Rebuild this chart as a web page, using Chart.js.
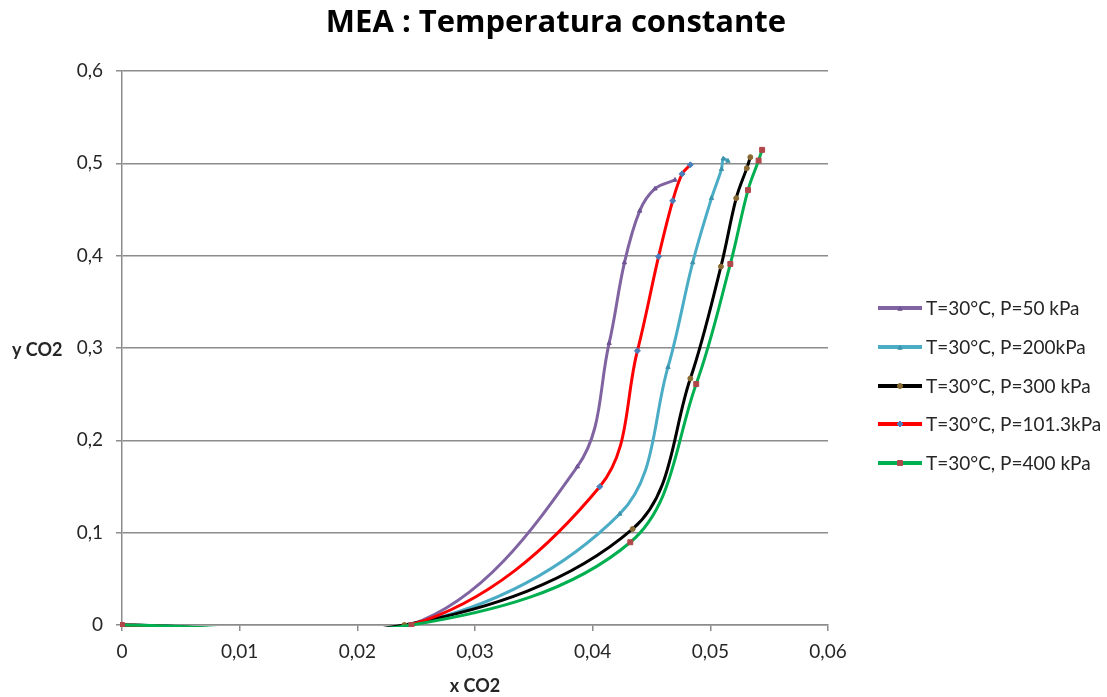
<!DOCTYPE html>
<html>
<head>
<meta charset="utf-8">
<title>MEA : Temperatura constante</title>
<script src="https://cdn.jsdelivr.net/npm/chart.js@4.4.1/dist/chart.umd.min.js"></script>
<style>
  html, body { margin: 0; padding: 0; background: #ffffff; }
  #wrap { width: 1107px; height: 697px; position: relative; }
</style>
</head>
<body>
<div id="wrap"><canvas id="chart" width="1107" height="697"></canvas></div>
<script>
// Titles and tick labels
const chartTitle = 'MEA : Temperatura constante';
const xAxisTitle = 'x CO2';
const yAxisTitle = 'y CO2';
const xTicks = [0, 0.01, 0.02, 0.03, 0.04, 0.05, 0.06];
const yTicks = [0, 0.1, 0.2, 0.3, 0.4, 0.5, 0.6];

// Series labels (legend order)
const seriesLabels = [
  'T=30°C, P=50 kPa',
  'T=30°C, P=200kPa',
  'T=30°C, P=300 kPa',
  'T=30°C, P=101.3kPa',
  'T=30°C, P=400 kPa'
];

// P = 50 kPa
const x50 = [0, 0.0245, 0.0387, 0.0414, 0.0427, 0.0440, 0.0453, 0.0470];
const y50 = [0, 0, 0.1715, 0.3052, 0.3925, 0.4485, 0.4725, 0.4820];

// P = 200 kPa
const x200 = [0, 0.0245, 0.0423, 0.0464, 0.0485, 0.0501, 0.05095, 0.0511, 0.0515];
const y200 = [0, 0, 0.1203, 0.2792, 0.3925, 0.4623, 0.4937, 0.5050, 0.5025];

// P = 300 kPa
const x300 = [0, 0.0240, 0.0434, 0.0483, 0.0509, 0.0522, 0.0531, 0.0534];
const y300 = [0, 0, 0.1040, 0.2669, 0.3882, 0.4623, 0.4948, 0.5067];

// P = 101.3 kPa
const x101 = [0, 0.0245, 0.0406, 0.0438, 0.0456, 0.0468, 0.0476, 0.0483];
const y101 = [0, 0, 0.1498, 0.2969, 0.3990, 0.4594, 0.4886, 0.4984];

// P = 400 kPa
const x400 = [0, 0.0246, 0.0432, 0.0488, 0.0517, 0.0532, 0.0541, 0.0544];
const y400 = [0, 0, 0.0896, 0.2610, 0.3910, 0.4710, 0.5030, 0.5146];

const toPoints = (xs, ys) => xs.map((x, i) => ({ x: x, y: ys[i] }));
const commaFmt = v => (Math.abs(v) < 1e-9 ? '0' : String(+v.toFixed(2)).replace('.', ','));

const FONT = 'Lato, "DejaVu Sans", sans-serif';
const TITLE_FONT = '"Open Sans", Lato, sans-serif';
const TEXT = '#262626';
const GRID = '#8c8c8c';

const styles = [
  { line: '#8064A2', mark: '#6f5594', shape: 'triangle', r: 2.5, order: 4 },
  { line: '#4BACC6', mark: '#3d93ab', shape: 'triangle', r: 2.5, order: 3 },
  { line: '#000000', mark: '#8a6a33', shape: 'circle',   r: 2.5, order: 2 },
  { line: '#FF0000', mark: '#4a7ebb', shape: 'rectRot',  r: 3,   order: 1 },
  { line: '#00B050', mark: '#b0474a', shape: 'rect',     r: 3.5, order: 0 }
];
const seriesData = [
  toPoints(x50, y50),
  toPoints(x200, y200),
  toPoints(x300, y300),
  toPoints(x101, y101),
  toPoints(x400, y400)
];

const datasets = seriesData.map((pts, i) => ({
  label: seriesLabels[i],
  data: pts,
  showLine: true,
  borderColor: styles[i].line,
  borderWidth: 3,
  tension: 0.36,
  capBezierPoints: false,
  pointStyle: styles[i].shape,
  pointRadius: styles[i].r,
  pointBackgroundColor: styles[i].mark,
  pointBorderColor: styles[i].mark,
  pointBorderWidth: 1,
  order: styles[i].order,
  clip: 2
}));

// Title, horizontal axis titles and the legend on the right
const decorations = {
  id: 'decorations',
  afterDraw(chart) {
    const ctx = chart.ctx;
    ctx.save();
    ctx.fillStyle = '#000000';
    ctx.textBaseline = 'middle';
    ctx.textAlign = 'center';
    ctx.font = 'bold 31px ' + TITLE_FONT;
    ctx.fillText(chartTitle, 556, 23);

    ctx.fillStyle = TEXT;
    ctx.font = 'bold 18px ' + FONT;
    ctx.textAlign = 'left';
    ctx.fillText(yAxisTitle, 12, 350);
    ctx.textAlign = 'center';
    ctx.fillText(xAxisTitle, 475, 686);

    // legend
    ctx.font = '19px ' + FONT;
    ctx.textAlign = 'left';
    const legendY = [308, 347, 386, 424, 463];
    legendY.forEach((ly, i) => {
      const st = styles[i];
      ctx.strokeStyle = st.line;
      ctx.lineWidth = 4;
      ctx.beginPath();
      ctx.moveTo(878, ly);
      ctx.lineTo(922, ly);
      ctx.stroke();
      ctx.fillStyle = st.mark;
      ctx.strokeStyle = st.mark;
      ctx.lineWidth = 1;
      Chart.helpers.drawPoint(ctx, {
        pointStyle: st.shape, radius: st.r, rotation: 0, borderWidth: 1
      }, 900, ly + (st.shape === 'triangle' ? 1 : 0));
      ctx.fillStyle = TEXT;
      ctx.fillText(seriesLabels[i], 926, ly + 1);
    });
    ctx.restore();
  }
};

new Chart(document.getElementById('chart'), {
  type: 'scatter',
  data: { datasets: datasets },
  plugins: [decorations],
  options: {
    responsive: false,
    animation: false,
    events: [],
    layout: { padding: { left: 0, top: 71, right: 279, bottom: 0 } },
    elements: { line: { capBezierPoints: false } },
    plugins: {
      legend: { display: false },
      title: { display: false },
      tooltip: { enabled: false }
    },
    scales: {
      x: {
        type: 'linear',
        min: 0,
        max: 0.06,
        afterFit(scale) { scale.height = 72; },
        afterBuildTicks(scale) { scale.ticks = xTicks.map(v => ({ value: v })); },
        border: { display: true, color: GRID, width: 1.5 },
        grid: { drawOnChartArea: false, drawTicks: true, tickLength: 6, color: GRID, lineWidth: 1.5 },
        ticks: {
          padding: 9,
          color: TEXT,
          font: { family: FONT, size: 19 },
          maxRotation: 0,
          callback: v => commaFmt(v)
        }
      },
      y: {
        type: 'linear',
        min: 0,
        max: 0.6,
        afterFit(scale) { scale.width = 122; },
        afterBuildTicks(scale) { scale.ticks = yTicks.map(v => ({ value: v })); },
        border: { display: true, color: GRID, width: 1.5 },
        grid: { drawTicks: true, tickLength: 6, color: GRID, lineWidth: 1.5 },
        ticks: {
          padding: 13,
          color: TEXT,
          font: { family: FONT, size: 19 },
          callback: v => commaFmt(v)
        }
      }
    }
  }
});
</script>
</body>
</html>
